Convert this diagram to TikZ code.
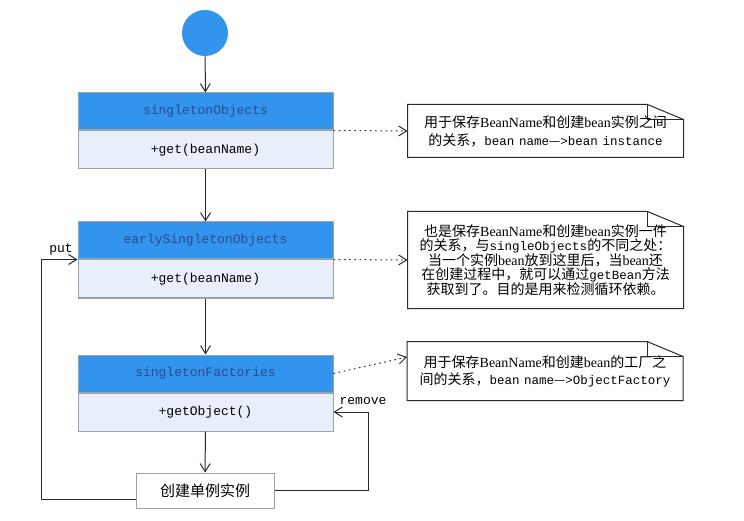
\documentclass[tikz,border=0pt]{standalone}
\usepackage{fontspec}
\setmainfont{Liberation Serif}
\setmonofont{Liberation Mono}
\newfontfamily\cjk{Noto Sans CJK SC}
\newcommand{\zh}[1]{{\cjk #1}}
\newcommand{\code}[1]{{\ttfamily\fontsize{12.5}{14}\selectfont #1}}
\usetikzlibrary{positioning, arrows.meta}
\definecolor{headblue}{HTML}{3394EE}
\definecolor{headtext}{HTML}{2A4A8C}
\definecolor{bodyblue}{HTML}{E8EEFA}
\definecolor{boxline}{HTML}{9AA3AD}
\definecolor{wire}{HTML}{2A2A2A}
\tikzset{
  head/.style = {draw=boxline, fill=headblue, text=headtext, rectangle,
    minimum width=255pt, minimum height=37pt, inner sep=0pt,
    font=\ttfamily\fontsize{13}{15}\selectfont},
  body/.style = {draw=boxline, fill=bodyblue, rectangle,
    minimum width=255pt, minimum height=38pt, inner sep=0pt,
    font=\ttfamily\fontsize{13}{15}\selectfont},
  note/.style = {rectangle, text width=272pt, align=center, inner sep=0pt,
    minimum width=275pt, font=\fontsize{14}{14.5}\selectfont},
  lbl/.style = {font=\ttfamily\fontsize{13}{15}\selectfont, inner sep=0pt},
  vee/.style = {-{Straight Barb[length=8pt,width=10pt]}},
  link/.style = {vee, dash pattern=on 1.6pt off 3.6pt}
}

\begin{document}
\begin{tikzpicture}[x=1pt,y=-1pt,draw=wire,line width=1pt]
  \useasboundingbox (0,0) rectangle (744,521);
  % start and the three caches
  \node [circle, fill=headblue, minimum size=46pt, inner sep=0pt] (start) at (205,33) {};
  \node [head] (h1) at (205.5,111.5) {singletonObjects};
  \node [body] (b1) [below=0pt of h1] {+get(beanName)};
  \node [head] (h2) at (205.5,240.5) {earlySingletonObjects};
  \node [body] (b2) [below=0pt of h2] {+get(beanName)};
  \node [head] (h3) at (205.5,373.5) {singletonFactories};
  \node [body] (b3) [below=0pt of h3] {+getObject()};
  \node [draw=boxline, fill=white, minimum width=138pt, minimum height=35pt,
    font=\cjk\fontsize{15}{17}\selectfont] (create) at (205,490.5) {创建单例实例};
  % notes
  \node [note, minimum height=52pt, font=\fontsize{14}{18}\selectfont] (note1) at (545.5,131) {%
    \zh{用于保存}BeanName\zh{和创建}bean\zh{实例之间}\\
    \zh{的关系，}\code{bean name\zh{—}>bean instance}};
  \node [note, minimum height=96pt] (note2) at (545.5,260) {%
    \zh{也是保存}BeanName\zh{和创建}bean\zh{实例一件}\\
    \zh{的关系，与}\code{singleObjects}\zh{的不同之处：}\\
    \zh{当一个实例}bean\zh{放到这里后，当}bean\zh{还}\\
    \zh{在创建过程中，就可以通过}\code{getBean}\zh{方法}\\
    \zh{获取到了。目的是用来检测循环依赖。}};
  \node [note, minimum height=58pt, font=\fontsize{14}{17}\selectfont] (note3) at (545,371) {%
    \zh{用于保存}BeanName\zh{和创建}bean\zh{的工厂之}\\
    \zh{间的关系，}\code{bean name\zh{—}>ObjectFactory}};
  \foreach \n in {note1,note2,note3} {
    \draw [draw=wire] (\n.north west) -- ([xshift=-36pt]\n.north east)
      -- ([yshift=-15pt]\n.north east) -- (\n.south east) -- (\n.south west) -- cycle;
    \draw [draw=wire] ([xshift=-36pt]\n.north east) |- ([yshift=-15pt]\n.north east);
  }
  % flow
  \draw [vee] (start) -- (h1);
  \draw [vee] (b1) -- (h2);
  \draw [vee] (b2) -- (h3);
  \draw [vee] (b3) -- (create);
  \draw [vee] ([yshift=-8.5pt]create.west) -- ++(-94,0) |- (h2.south west);
  \node [lbl] (put) at (61,250) {put};
  \draw [vee] (create.east) -- ++(94,0) |- (b3.east);
  \node [lbl] (remove) at (363,401) {remove};
  % links to notes
  \draw [link] (h1.south east) -- (note1.west);
  \draw [link] (h2.south east) -- (note2.west);
  \draw [link] (h3.east) -- ([yshift=14pt]note3.west);
\end{tikzpicture}
\end{document}
